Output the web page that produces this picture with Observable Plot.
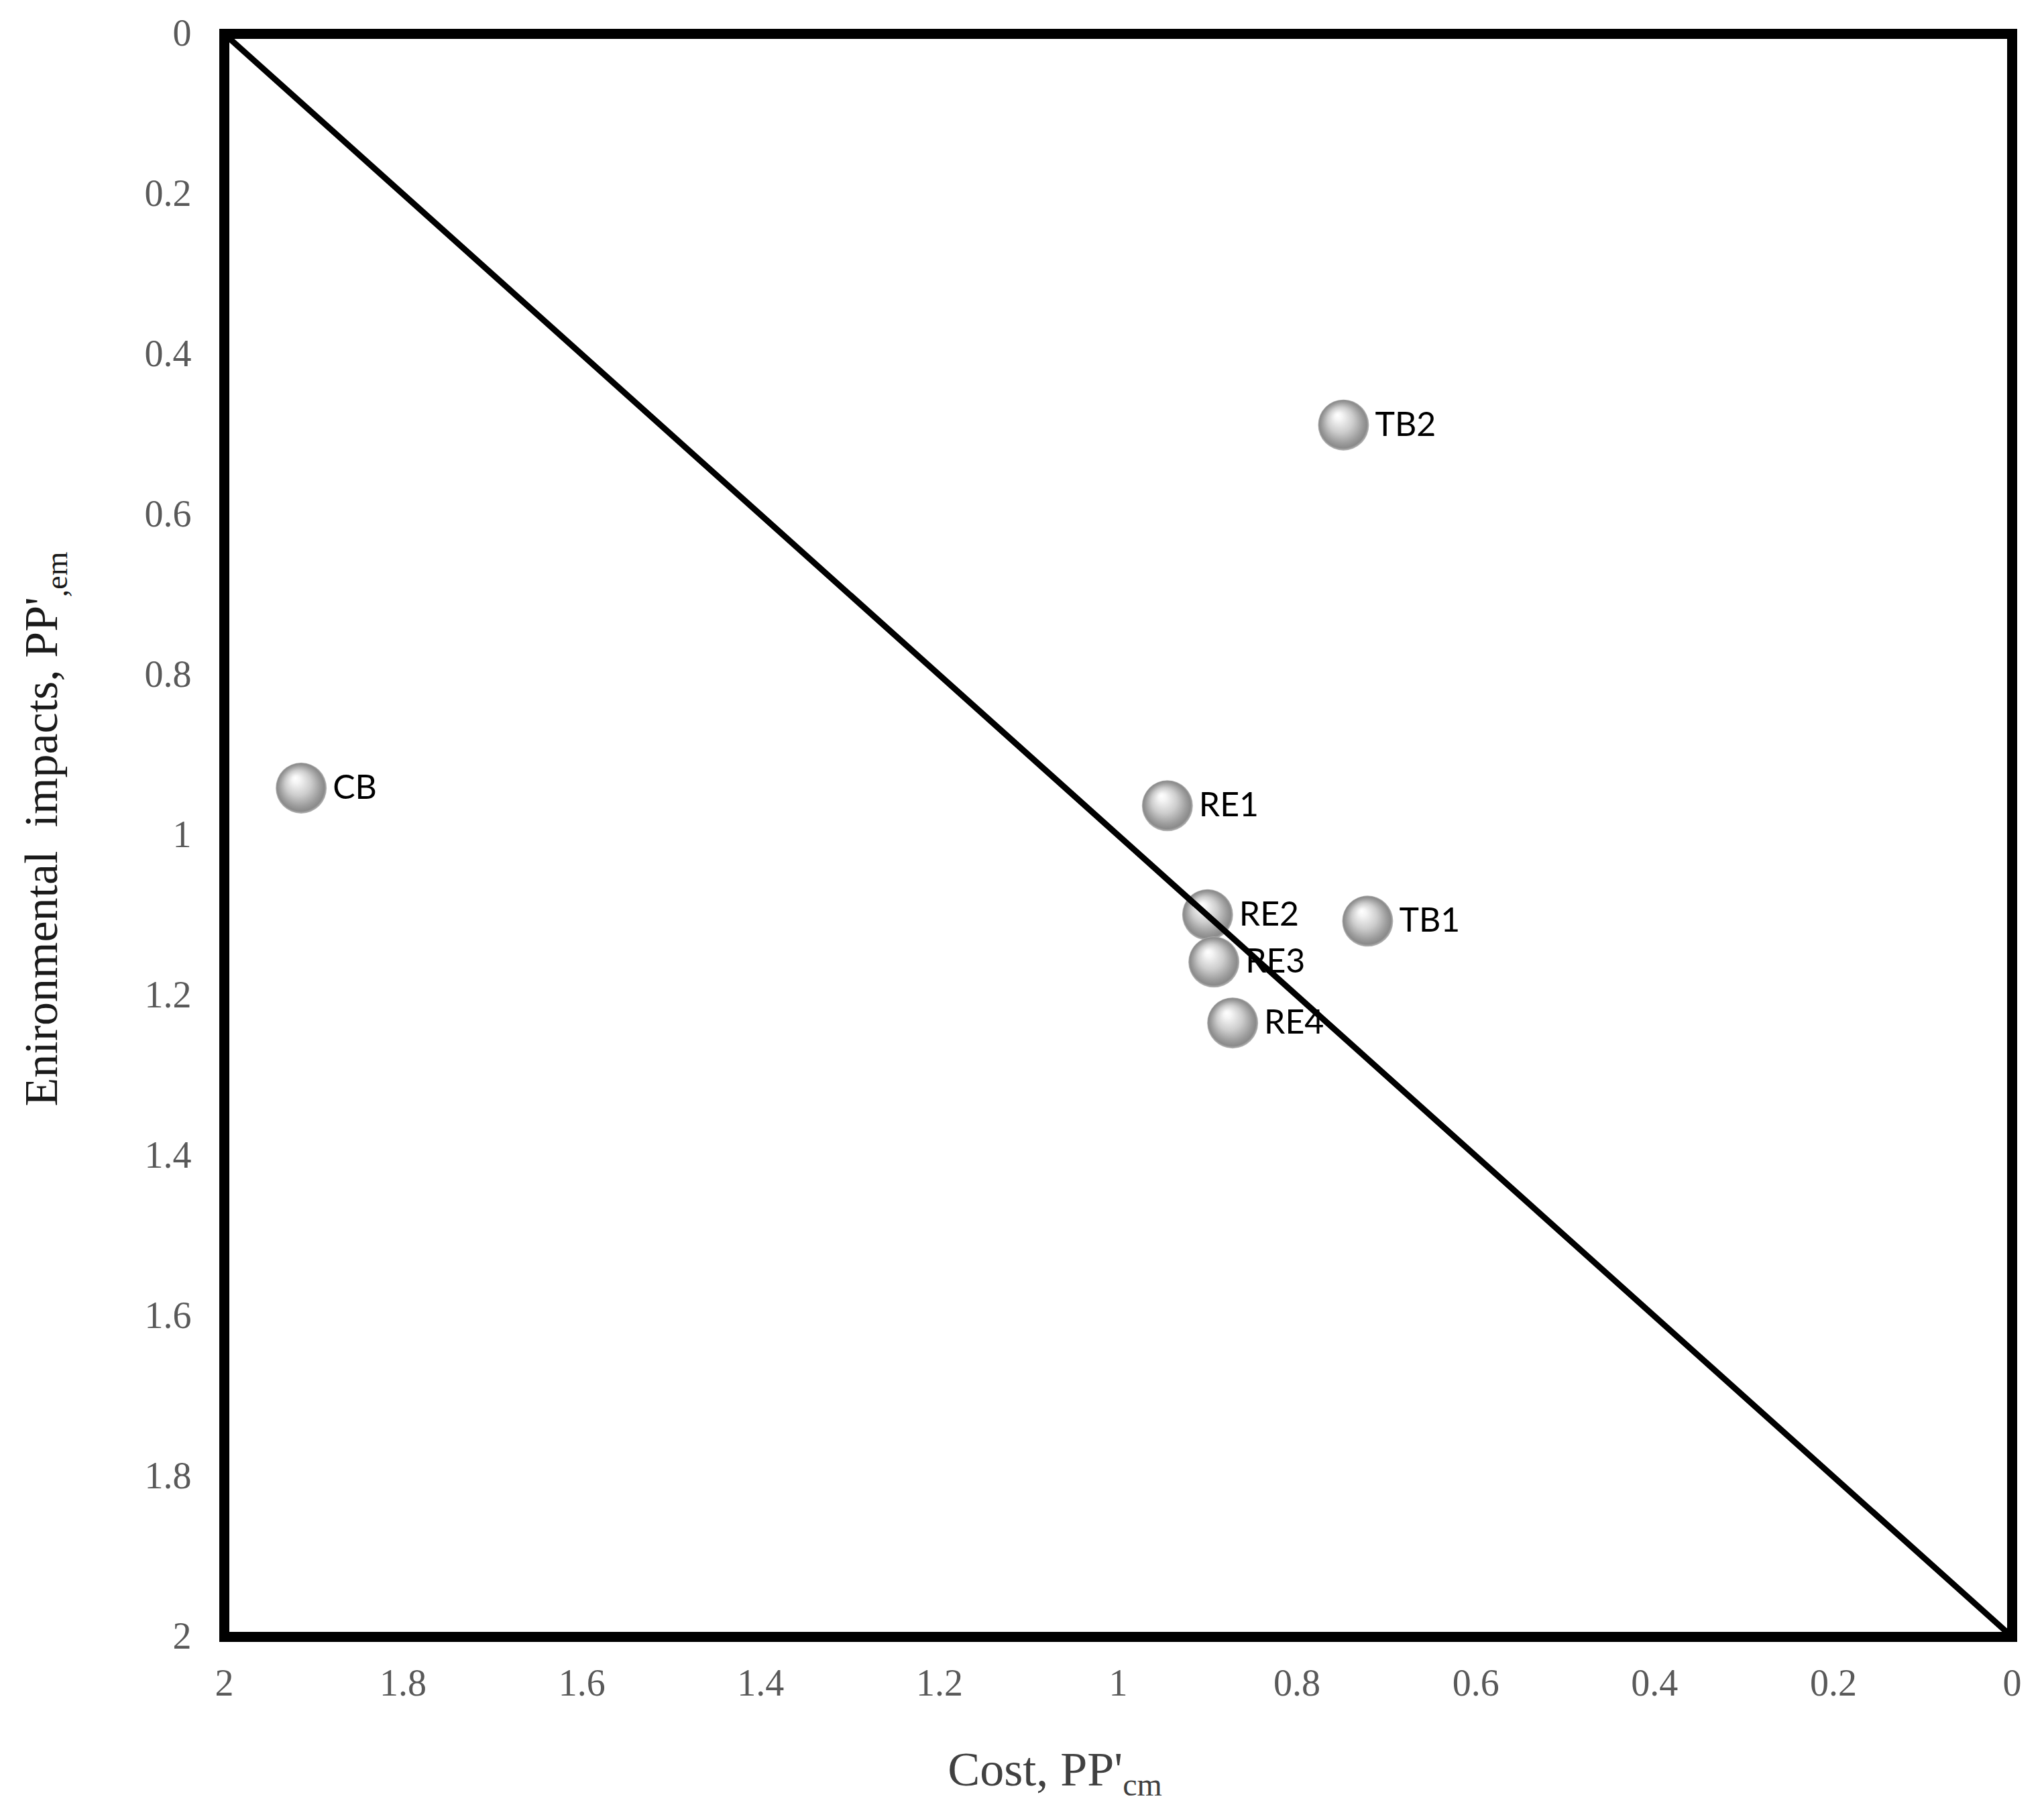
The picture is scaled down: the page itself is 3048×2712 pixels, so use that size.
<!DOCTYPE html>
<html><head><meta charset="utf-8">
<script src="https://cdn.jsdelivr.net/npm/d3@7"></script>
<script src="https://cdn.jsdelivr.net/npm/@observablehq/plot@0.6"></script>
<style>
html,body{margin:0;padding:0;background:#fff;}
</style>
</head><body><div id="chart"></div>
<script>
// Data
const names = ["CB", "TB2", "RE1", "RE2", "TB1", "RE3", "RE4"];
const cost  = [1.914, 0.748, 0.945, 0.900, 0.721, 0.893, 0.872];
const env   = [0.941, 0.488, 0.963, 1.099, 1.107, 1.158, 1.234];
const xTicks = [2, 1.8, 1.6, 1.4, 1.2, 1, 0.8, 0.6, 0.4, 0.2, 0];
const yTicks = [0, 0.2, 0.4, 0.6, 0.8, 1, 1.2, 1.4, 1.6, 1.8, 2];
const diagCost = [2, 0];
const diagEnv  = [0, 2];

const points = names.map((n, i) => ({name: n, cost: cost[i], env: env[i]}));
const diag = diagCost.map((c, i) => ({cost: c, env: diagEnv[i]}));

const chart = Plot.plot({
  width: 3048,
  height: 2712,
  marginLeft: 334,
  marginRight: 48,
  marginTop: 50,
  marginBottom: 272,
  style: {background: "#fff", fontFamily: "'Liberation Serif', serif", fontSize: "56px", color: "#595959"},
  x: {domain: [2, 0], ticks: xTicks, tickSize: 0, tickPadding: 48, label: null, tickFormat: d => String(d)},
  y: {domain: [0, 2], reverse: true, ticks: yTicks, tickSize: 0, tickPadding: 49, label: null, tickFormat: d => String(d)},
  marks: [
    Plot.dot(points, {x: "cost", y: "env", r: 38, fill: "url(#sphere)", stroke: "none"}),
    Plot.text(points, {x: "cost", y: "env", text: "name", dx: 47, textAnchor: "start", fontFamily: "Lato, sans-serif", fontSize: 50, fill: "#000"}),
    Plot.line(diag, {x: "cost", y: "env", stroke: "#000", strokeWidth: 9}),
    Plot.frame({stroke: "#000", strokeWidth: 15})
  ]
});

const svg = d3.select(chart);
const defs = svg.insert("defs", ":first-child");
const grad = defs.append("radialGradient")
  .attr("id", "sphere")
  .attr("cx", "0.5").attr("cy", "0.5").attr("r", "0.5")
  .attr("fx", "0.38").attr("fy", "0.3");
[[0, "#ffffff"], [0.15, "#f5f5f5"], [0.5, "#cdcdcd"], [0.8, "#9c9c9c"], [0.93, "#8a8a8a"], [1, "#b8b8b8"]]
  .forEach(([o, c]) => grad.append("stop").attr("offset", o).attr("stop-color", c));

// X axis title with subscript
const xt = svg.append("text")
  .attr("x", 1573).attr("y", 2662)
  .attr("text-anchor", "middle")
  .attr("font-family", "'Liberation Serif', serif")
  .attr("font-size", 72)
  .attr("fill", "#404040");
xt.append("tspan").text("Cost, PP'");
xt.append("tspan").attr("font-size", 48).attr("dy", 15).text("cm");

// Y axis title with subscript
const yt = svg.append("text")
  .attr("transform", "translate(85,1236) rotate(-90)")
  .attr("text-anchor", "middle")
  .attr("font-family", "'Liberation Serif', serif")
  .attr("font-size", 70)
  .attr("fill", "#1a1a1a");
yt.append("tspan").text("Enironmental\u00a0 impacts, PP'");
yt.append("tspan").attr("font-size", 46).attr("dy", 15).text(",em");

document.getElementById("chart").appendChild(chart);
</script>
</body></html>
